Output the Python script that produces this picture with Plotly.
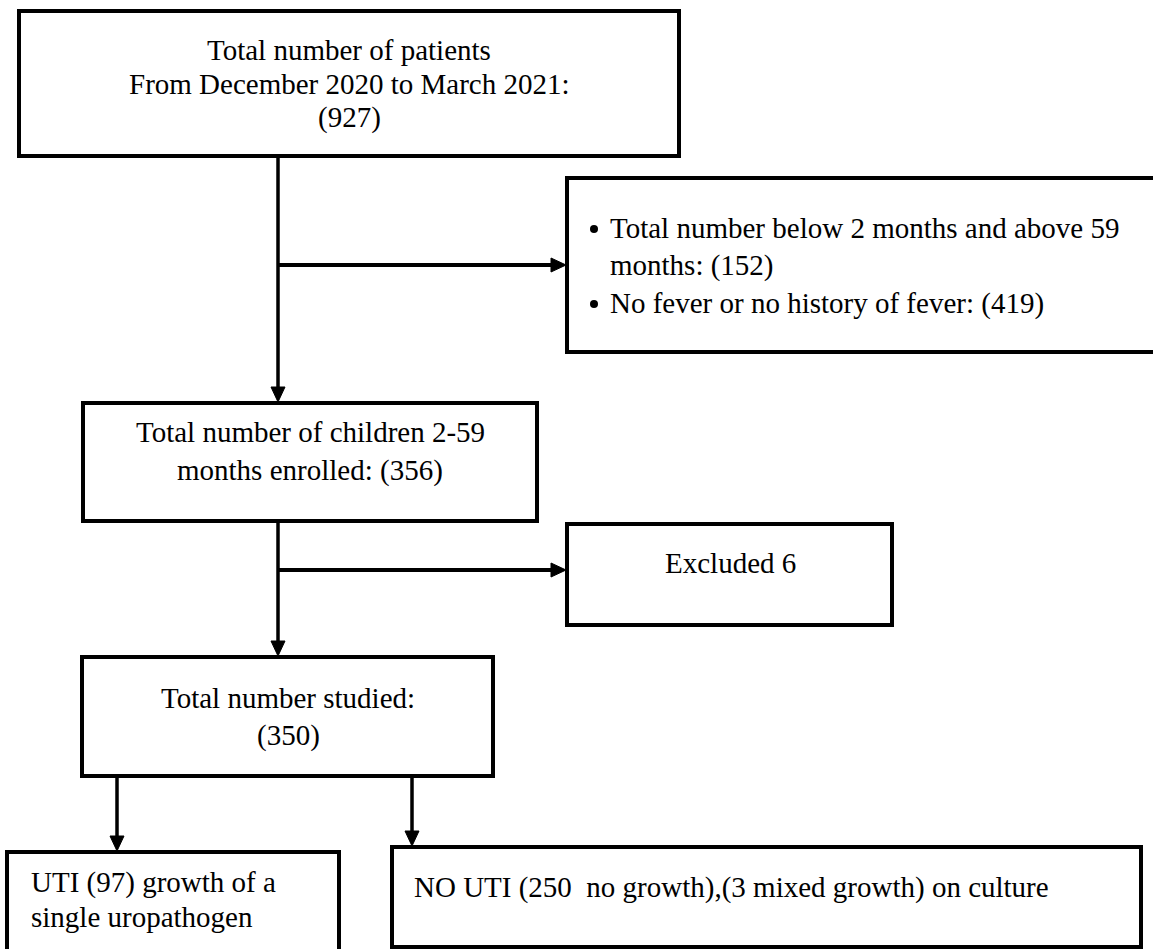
import plotly.graph_objects as go

# ---- data (counts from the flow chart) ----
total_patients = 927
below2_above59 = 152
no_fever = 419
enrolled = 356
excluded = 6
studied = 350
uti_single = 97
no_growth = 250
mixed_growth = 3

box1_lines = ["Total number of patients", "From December 2020 to March 2021:", f"({total_patients})"]
excl1_lines = ["Total number below 2 months and above 59", f"months: ({below2_above59})",
               f"No fever or no history of fever: ({no_fever})"]
excl1_bullets = [True, False, True]
box2_lines = ["Total number of children 2-59", f"months enrolled: ({enrolled})"]
excl2_lines = [f"Excluded {excluded}"]
box3_lines = ["Total number studied:", f"({studied})"]
uti_lines = [f"UTI ({uti_single}) growth of a", "single uropathogen"]
nouti_lines = [f"NO UTI ({no_growth}&nbsp; no growth),({mixed_growth} mixed growth) on culture"]

# ---- layout geometry (pixels, y downward) ----
W, H = 1153, 949
FONT = dict(family="Liberation Serif, Times New Roman, serif", size=29, color="black")

boxes = [
    (19, 11, 679, 156),     # box1
    (567, 178, 1165, 352),  # exclusion 1 (runs off right edge)
    (83, 403, 537, 521),    # box2
    (567, 524, 892, 625),   # excluded 6
    (82, 657, 493, 776),    # box3
    (7, 852, 339, 965),     # UTI (runs off bottom)
    (392, 847, 1141, 947),  # NO UTI
]

shapes = []
for x0, y0, x1, y1 in boxes:
    shapes.append(dict(type="rect", x0=x0, y0=y0, x1=x1, y1=y1, xref="x", yref="y",
                       line=dict(color="black", width=4), fillcolor="rgba(0,0,0,0)"))

def line(x0, y0, x1, y1, w=3.5):
    shapes.append(dict(type="line", x0=x0, y0=y0, x1=x1, y1=y1, xref="x", yref="y",
                       line=dict(color="black", width=w)))

def head_down(x, ytip, L=15, hw=7):
    shapes.append(dict(type="path", xref="x", yref="y",
                       path=f"M {x-hw},{ytip-L} L {x+hw},{ytip-L} L {x},{ytip} Z",
                       fillcolor="black", line=dict(color="black", width=1)))

def head_right(xtip, y, L=15, hw=7):
    shapes.append(dict(type="path", xref="x", yref="y",
                       path=f"M {xtip-L},{y-hw} L {xtip-L},{y+hw} L {xtip},{y} Z",
                       fillcolor="black", line=dict(color="black", width=1)))

def dot(x, y, r=4):
    shapes.append(dict(type="circle", xref="x", yref="y", x0=x-r, x1=x+r, y0=y-r, y1=y+r,
                       fillcolor="black", line=dict(color="black", width=0)))

# main trunk 1
line(278, 156, 278, 390)
head_down(278, 402)
line(278, 265, 555, 265, 4)
head_right(566, 265)
# main trunk 2
line(278, 521, 278, 645)
head_down(278, 656)
line(278, 570, 555, 570, 4)
head_right(566, 570)
# split
line(117, 776, 117, 840)
head_down(117, 851)
line(412, 776, 412, 835)
head_down(412, 846)

annotations = []
def text(s, x, y, anchor="center"):
    annotations.append(dict(text=s, x=x, y=y, xref="x", yref="y", xanchor=anchor,
                            yanchor="middle", showarrow=False, font=FONT))

for s, y in zip(box1_lines, [50, 84, 117]):
    text(s, 349, y)
for s, y, b in zip(excl1_lines, [228, 265, 303], excl1_bullets):
    text(s, 608, y, "left")
    if b:
        dot(594, y + 1)
for s, y in zip(box2_lines, [432, 470]):
    text(s, 310, y)
for s, y in zip(excl2_lines, [563]):
    text(s, 730, y)
for s, y in zip(box3_lines, [698, 735]):
    text(s, 288, y)
for s, y in zip(uti_lines, [882, 917]):
    text(s, 29, y, "left")
for s, y in zip(nouti_lines, [887]):
    text(s, 412, y, "left")

fig = go.Figure()
fig.update_layout(
    width=W, height=H, autosize=False,
    margin=dict(l=0, r=0, t=0, b=0),
    paper_bgcolor="white", plot_bgcolor="white",
    xaxis=dict(range=[0, W], visible=False, fixedrange=True),
    yaxis=dict(range=[H, 0], visible=False, fixedrange=True),
    shapes=shapes, annotations=annotations, showlegend=False,
)
fig.write_html(
    "out.html",
    config={"displayModeBar": False},
    post_script="document.body.style.margin='0';document.body.style.overflow='hidden';",
)
